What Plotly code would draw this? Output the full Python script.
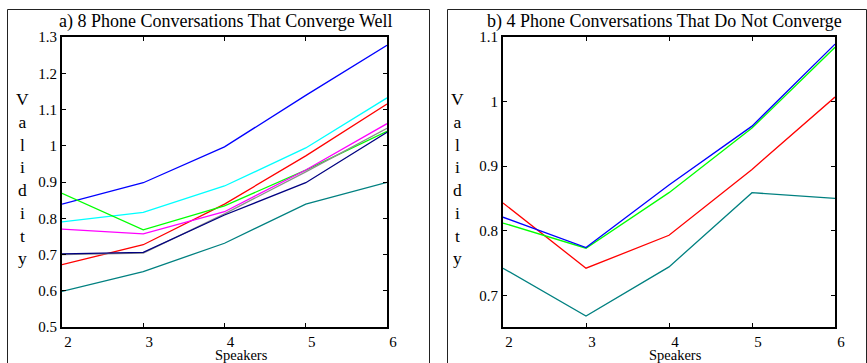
import plotly.graph_objects as go

W, H = 867, 363

speakers = [2, 3, 4, 5, 6]

# Panel a) 8 conversations that converge well
a_blue    = [0.839, 0.898, 0.997, 1.139, 1.277]
a_cyan    = [0.790, 0.816, 0.889, 0.994, 1.132]
a_red     = [0.672, 0.727, 0.839, 0.972, 1.115]
a_green   = [0.869, 0.768, 0.834, 0.933, 1.040]
a_magenta = [0.770, 0.757, 0.818, 0.933, 1.061]
a_gray    = [0.700, 0.704, 0.812, 0.928, 1.048]
a_navy    = [0.702, 0.706, 0.809, 0.898, 1.037]
a_teal    = [0.598, 0.653, 0.731, 0.839, 0.899]

# Panel b) 4 conversations that do not converge
b_blue  = [0.821, 0.774, 0.871, 0.962, 1.089]
b_green = [0.812, 0.773, 0.859, 0.959, 1.084]
b_red   = [0.843, 0.742, 0.793, 0.895, 1.007]
b_teal  = [0.742, 0.668, 0.744, 0.859, 0.850]

a_yticks = [0.5, 0.6, 0.7, 0.8, 0.9, 1.0, 1.1, 1.2, 1.3]
a_ytext = ["0.5", "0.6", "0.7", "0.8", "0.9", "1", "1.1", "1.2", "1.3"]
b_yticks = [0.7, 0.8, 0.9, 1.0, 1.1]
b_ytext = ["0.7", "0.8", "0.9", "1", "1.1"]

title_a = "a) 8 Phone Conversations That Converge Well"
title_b = "b) 4 Phone Conversations That Do Not Converge"
xlabel = "Speakers"
ylabel = "Validity"

FONT = "Liberation Serif, Times New Roman, serif"

fig = go.Figure()

a_series = [
    (a_blue, "#0000ff"), (a_cyan, "#00ffff"), (a_red, "#ff0000"),
    (a_green, "#00ff00"), (a_magenta, "#ff00ff"), (a_gray, "#8c8c8c"),
    (a_navy, "#000080"), (a_teal, "#008080"),
]
for ys, c in a_series:
    fig.add_trace(go.Scatter(x=speakers, y=ys, mode="lines",
                             line=dict(color=c, width=1.3),
                             xaxis="x", yaxis="y", showlegend=False))

b_series = [(b_teal, "#008080"), (b_red, "#ff0000"), (b_green, "#00ff00"), (b_blue, "#0000ff")]
for ys, c in b_series:
    fig.add_trace(go.Scatter(x=speakers, y=ys, mode="lines",
                             line=dict(color=c, width=1.3),
                             xaxis="x2", yaxis="y2", showlegend=False))

def px(x):
    return x / W

def py(y):
    return 1 - y / H

axis_common = dict(
    showline=True, linecolor="black", linewidth=2, mirror="allticks",
    ticks="inside", ticklen=4, tickcolor="black", tickwidth=1,
    showgrid=False, zeroline=False, automargin=False,
    tickfont=dict(family=FONT, size=15, color="black"),
)

ydom = [py(327), py(37)]
fig.update_layout(
    width=W, height=H,
    margin=dict(l=0, r=0, t=0, b=0),
    paper_bgcolor="white", plot_bgcolor="white",
    xaxis=dict(domain=[px(62), px(387)], range=[2, 6], tickvals=speakers,
               ticklabelshift=6, ticklabelstandoff=0, anchor="y", **axis_common),
    yaxis=dict(domain=ydom, range=[0.5, 1.3], tickvals=a_yticks, ticktext=a_ytext,
               anchor="x", **axis_common),
    xaxis2=dict(domain=[px(503), px(835)], range=[2, 6], tickvals=speakers,
                ticklabelshift=6, ticklabelstandoff=0, anchor="y2", **axis_common),
    yaxis2=dict(domain=ydom, range=[0.651, 1.1], tickvals=b_yticks, ticktext=b_ytext,
                anchor="x2", **axis_common),
    showlegend=False,
)

ann_font = dict(family=FONT, color="black")
annotations = [
    dict(text=title_a, x=px(226), y=py(21), font=dict(size=18, **ann_font)),
    dict(text=title_b, x=px(664), y=py(21), font=dict(size=18, **ann_font)),
    dict(text=xlabel, x=px(241), y=py(355), font=dict(size=14.5, **ann_font)),
    dict(text=xlabel, x=px(675), y=py(355), font=dict(size=14.5, **ann_font)),
    dict(text="<br>".join(ylabel), x=px(22), y=py(178), font=dict(size=17.5, **ann_font)),
    dict(text="<br>".join(ylabel), x=px(457), y=py(178), font=dict(size=17.5, **ann_font)),
]
for a in annotations:
    a.update(xref="paper", yref="paper", showarrow=False, xanchor="center", yanchor="middle")
fig.update_layout(annotations=annotations)

border = dict(color="#222222", width=1)
shapes = []
for x0, x1 in [(7.5, 429.5), (447.5, 866.5)]:
    shapes.append(dict(type="line", xref="paper", yref="paper", x0=px(x0), x1=px(x1), y0=py(9.5), y1=py(9.5), line=border))
    shapes.append(dict(type="line", xref="paper", yref="paper", x0=px(x0), x1=px(x0), y0=py(9.5), y1=-0.05, line=border))
    shapes.append(dict(type="line", xref="paper", yref="paper", x0=px(x1), x1=px(x1), y0=py(9.5), y1=-0.05, line=border))
fig.update_layout(shapes=shapes)

fig.write_html("out.html", config={"displayModeBar": False},
               post_script="document.body.style.margin='0px';document.body.style.overflow='hidden';")
